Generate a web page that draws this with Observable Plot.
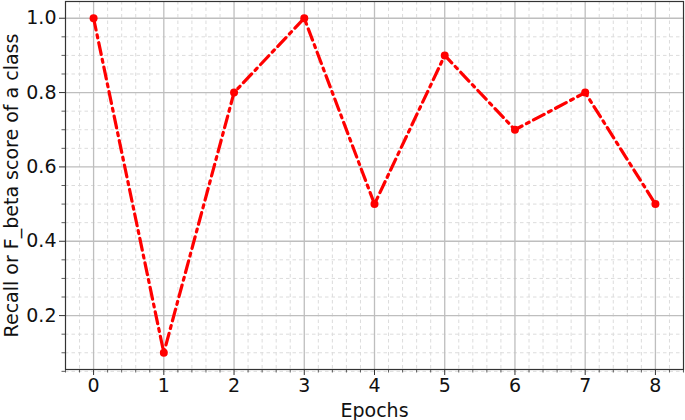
<!DOCTYPE html>
<html>
<head>
<meta charset="utf-8">
<script src="https://cdn.jsdelivr.net/npm/d3@7"></script>
<script src="https://cdn.jsdelivr.net/npm/@observablehq/plot@0.6"></script>
<style>
  html, body { margin: 0; padding: 0; background: #fff; }
  svg { display: block; }
</style>
</head>
<body>
<div id="chart"></div>
<script>
const epochs = [0, 1, 2, 3, 4, 5, 6, 7, 8];
const scores = [1.0, 0.1, 0.8, 1.0, 0.5, 0.9, 0.7, 0.8, 0.5];
const xTicks = [0, 1, 2, 3, 4, 5, 6, 7, 8];
const yTicks = [0.2, 0.4, 0.6, 0.8, 1.0];
const xLabel = "Epochs";
const yLabel = "Recall or F_beta score of a class";

const data = epochs.map((e, i) => ({epoch: e, score: scores[i]}));
const xMinor = d3.range(-0.4, 8.41, 0.2).map(v => +v.toFixed(2)).filter(v => !xTicks.includes(v));
const yMinor = d3.range(0.05, 1.046, 0.05).map(v => +v.toFixed(2)).filter(v => !yTicks.some(t => Math.abs(t - v) < 1e-9));

const chart = Plot.plot({
  width: 685,
  height: 420,
  marginLeft: 65,
  marginRight: 2,
  marginTop: 1,
  marginBottom: 51,
  style: {fontFamily: "DejaVu Sans", fontSize: "19px", color: "#000", background: "#fff"},
  x: {domain: [-0.4, 8.4], label: null},
  y: {domain: [0.055, 1.045], label: null},
  marks: [
    Plot.ruleX(xMinor, {stroke: "#dcdcdc", strokeWidth: 1, strokeDasharray: "3.5,3"}),
    Plot.ruleY(yMinor, {stroke: "#dcdcdc", strokeWidth: 1, strokeDasharray: "3.5,3"}),
    Plot.ruleX(xTicks, {stroke: "#bebebe", strokeWidth: 1.3}),
    Plot.ruleY(yTicks, {stroke: "#bebebe", strokeWidth: 1.3}),
    Plot.axisX(xMinor, {tickSize: 3.5, tickFormat: () => "", label: null, stroke: "#333", strokeWidth: 0.8}),
    Plot.axisY(yMinor, {tickSize: 3.5, tickFormat: () => "", label: null, stroke: "#333", strokeWidth: 0.8}),
    Plot.axisX(xTicks, {tickSize: 6, tickPadding: 3, tickFormat: d3.format("d"), fontSize: 19, fill: "#111", stroke: "#333", strokeWidth: 1,
      label: xLabel, labelAnchor: "center", labelArrow: "none", labelOffset: 47}),
    Plot.axisY(yTicks, {tickSize: 6, tickPadding: 3, tickFormat: d3.format(".1f"), fontSize: 19, fill: "#111", stroke: "#333", strokeWidth: 1,
      label: yLabel, labelAnchor: "center", labelArrow: "none", labelOffset: 61}),
    Plot.frame({stroke: "#333", strokeWidth: 1.2}),
    Plot.line(data, {x: "epoch", y: "score", stroke: "red", strokeWidth: 3.2, strokeDasharray: "12,5,3,5"}),
    Plot.dot(data, {x: "epoch", y: "score", fill: "red", r: 4})
  ]
});
document.getElementById("chart").appendChild(chart);
</script>
</body>
</html>
